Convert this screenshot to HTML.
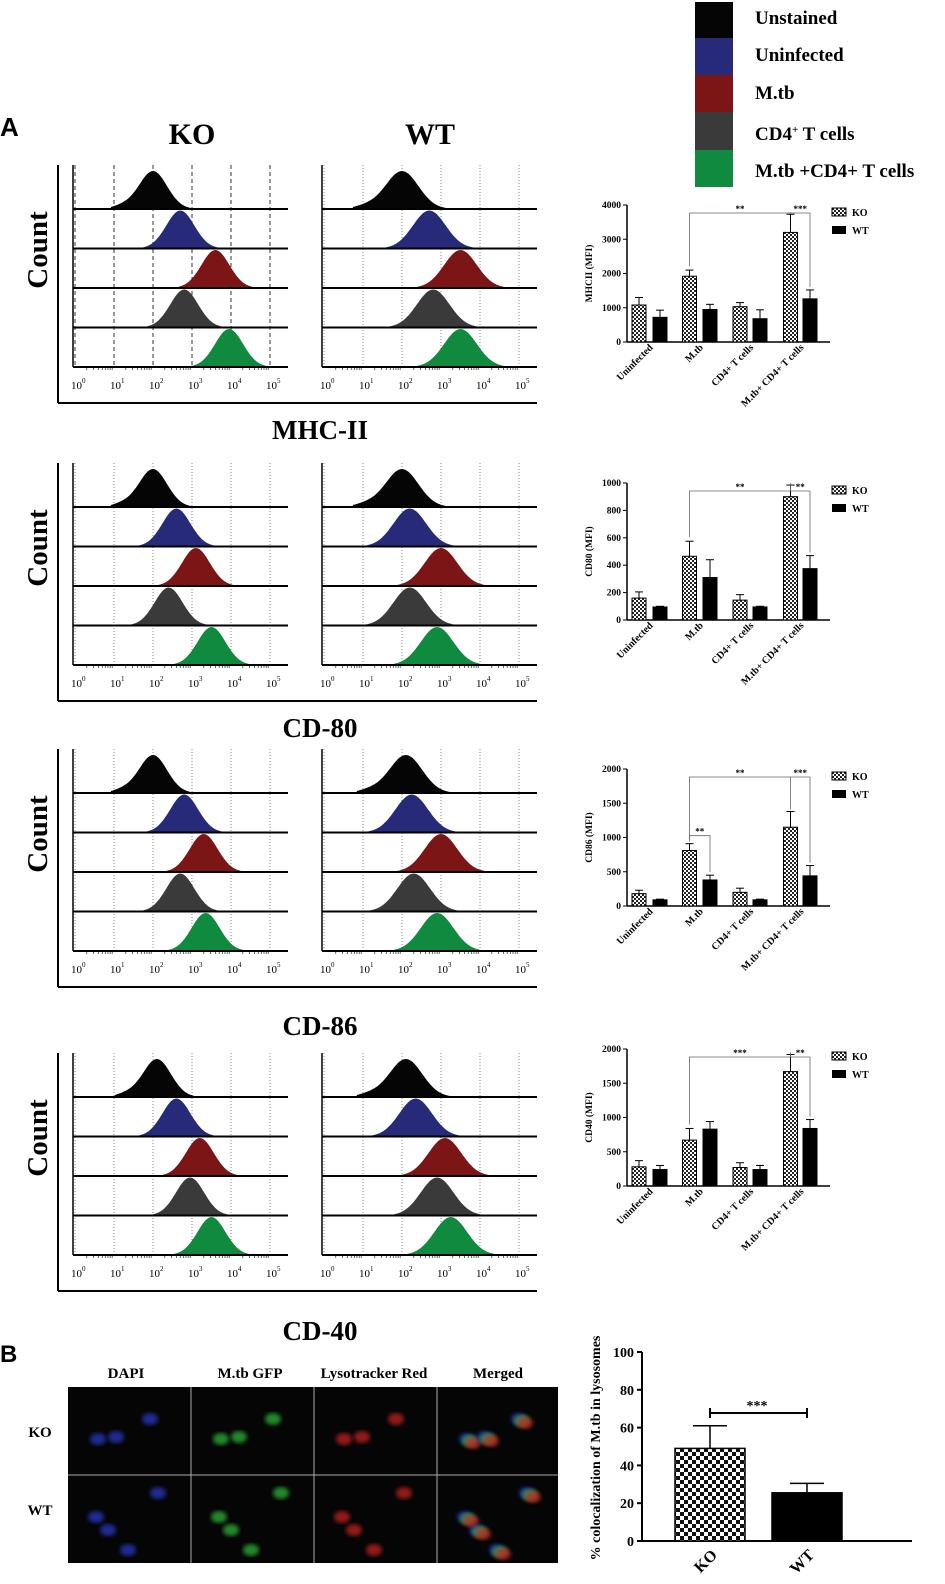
<!DOCTYPE html>
<html><head><meta charset="utf-8">
<style>
html,body{margin:0;padding:0;background:#fff;}
svg{display:block;font-family:"Liberation Serif",serif;}
</style></head>
<body>
<svg id="fig" width="945" height="1584" viewBox="0 0 945 1584" xmlns="http://www.w3.org/2000/svg">
<defs>
<pattern id="chk" width="4" height="4" patternUnits="userSpaceOnUse"><rect width="4" height="4" fill="#fff"/><rect width="2" height="2" fill="#222"/><rect x="2" y="2" width="2" height="2" fill="#222"/></pattern>
<pattern id="chkB" width="8" height="8" patternUnits="userSpaceOnUse"><rect width="8" height="8" fill="#fff"/><rect width="4" height="4" fill="#111"/><rect x="4" y="4" width="4" height="4" fill="#111"/></pattern>
<filter id="blur"><feGaussianBlur stdDeviation="2"/></filter>
</defs>
<g font-weight="bold" font-size="19">
<rect x="695" y="2" width="38" height="36" fill="#050505"/>
<rect x="695" y="38" width="38" height="37" fill="#262a78"/>
<rect x="695" y="75" width="38" height="37" fill="#7c1516"/>
<rect x="695" y="112" width="38" height="38" fill="#3a3a3a"/>
<rect x="695" y="150" width="38" height="37" fill="#0f8a3e"/>
<text x="755" y="24">Unstained</text>
<text x="755" y="61">Uninfected</text>
<text x="755" y="99">M.tb</text>
<text x="755" y="140">CD4<tspan font-size="11" dy="-7">+</tspan><tspan dy="7"> T cells</tspan></text>
<text x="755" y="177">M.tb +CD4+ T cells</text>
</g>
<text x="0" y="136" font-family="Liberation Sans,sans-serif" font-weight="bold" font-size="26">A</text>
<text x="192" y="144" text-anchor="middle" font-weight="bold" font-size="30">KO</text>
<text x="430" y="144" text-anchor="middle" font-weight="bold" font-size="30">WT</text>
<g id="hist"></g>
<g id="bars"></g>
<g id="panelB"></g>
</svg>
<script>
// ---- histogram data (log10 peak positions) ----
const markers = ["MHC-II","CD-80","CD-86","CD-40"];
const popNames = ["Unstained","Uninfected","M.tb","CD4 T cells","M.tb+CD4 T cells"];
const peaksKO = [[2.0,2.7,3.6,2.8,3.95],[2.0,2.6,3.1,2.4,3.5],[2.0,2.8,3.3,2.7,3.35],[2.1,2.6,3.2,2.95,3.5]];
const peaksWT = [[2.0,2.7,3.5,2.8,3.5],[2.0,2.2,3.0,2.2,2.9],[2.1,2.25,3.0,2.3,2.9],[2.1,2.35,3.1,2.9,3.25]];
const tickExp = ["0","1","2","3","4","5"];
// ---- bar chart data ----
const categories = ["Uninfected","M.tb","CD4+ T cells","M.tb+ CD4+ T cells"];
const barYTitles = ["MHCII (MFI)","CD80 (MFI)","CD86 (MFI)","CD40 (MFI)"];
const barMax = [4000,1000,2000,2000];
const barTicks = [[0,1000,2000,3000,4000],[0,200,400,600,800,1000],[0,500,1000,1500,2000],[0,500,1000,1500,2000]];
const koVals = [[1080,1920,1030,3200],[160,465,145,900],[180,810,200,1150],[280,670,270,1670]];
const koErr = [[220,180,120,530],[45,110,40,85],[50,100,60,230],[90,170,70,250]];
const wtVals = [[720,950,680,1260],[95,310,95,375],[90,380,90,440],[240,830,240,840]];
const wtErr = [[210,150,260,260],[5,130,5,95],[10,70,10,150],[60,110,60,130]];
const sigLong = ["**","**","**","***"];
const sigLast = ["***","**","***","**"];
// ---- panel B data ----
const bCats = ["KO","WT"];
const bVals = [49,25.5];
const bErr = [12,5];
const bTicks = [0,20,40,60,80,100];

const NS="http://www.w3.org/2000/svg";
function mk(tag,attrs,parent,txt){const e=document.createElementNS(NS,tag);for(const k in attrs)e.setAttribute(k,attrs[k]);if(txt!==undefined)e.textContent=txt;parent.appendChild(e);return e;}

const colors=["#050505","#262a78","#7c1516","#3a3a3a","#0f8a3e"];
const rowTop=[165,463,749,1053];
const titleY=[439,737,1035,1340];
const hist=document.getElementById('hist');
markers.forEach((m,r)=>{
  const top=rowTop[r];
  const g=mk('g',{},hist);
  
  
  const fb=top+238;
  mk('line',{x1:58,y1:top,x2:58,y2:fb,stroke:'#000','stroke-width':2},g);
  mk('line',{x1:58,y1:fb,x2:537,y2:fb,stroke:'#000','stroke-width':2},g);
  const ct=mk('text',{x:47,y:top+85,transform:`rotate(-90 47 ${top+85})`,'text-anchor':'middle','font-weight':'bold','font-size':29},g,'Count');
  
  
  const tt=mk('text',{x:320,y:titleY[r],'text-anchor':'middle','font-weight':'bold','font-size':27},g,m);
  
  
  [[73,288,peaksKO[r],'ko'],[322,537,peaksWT[r],'wt']].forEach(([L,R,pk,nm])=>{
    const pg=mk('g',{},g);
    
    
    const x0=L+2, dec=39;
    const xs=v=>x0+v*dec;
    const axisY=top+202;
    mk('line',{x1:L,y1:top,x2:L,y2:axisY,stroke:'#000','stroke-width':1.5},pg);
    for(let d=0;d<=5;d++){
      mk('line',{x1:xs(d),y1:top,x2:xs(d),y2:axisY,stroke:r===0&&nm==='ko'?'#333':'#888','stroke-width':1,'stroke-dasharray':r===0&&nm==='ko'?'4,3':'1,2'},pg);
      const t=mk('text',{x:xs(d)-4,y:axisY+22,'font-size':11},pg);
      t.textContent='10';
      mk('tspan',{dy:-6,'font-size':7},t,tickExp[d]);
      for(let k=2;k<10&&d<5;k++){const xx=xs(d+Math.log10(k));mk('line',{x1:xx,y1:axisY,x2:xx,y2:axisY+3,stroke:'#345','stroke-width':0.8},pg);}
    }
    const sig=nm==='ko'?0.36:0.42;
    pk.forEach((p,i)=>{
      const base=top+44+i*39.5;
      let d=`M${xs(p-3*sig)},${base}`;
      for(let s=-3;s<=3.001;s+=0.1){const v=p+s*sig;const tail=(i===0&&s<0)?0.08*Math.exp(-(s+2.2)*(s+2.2)):0;d+=` L${xs(v).toFixed(1)},${(base-38*(Math.exp(-s*s/2)+tail)).toFixed(1)}`;}
      d+=` L${xs(p+3*sig)},${base}Z`;
      const h=mk('path',{d:d,fill:colors[i]},pg);
      
      
      mk('line',{x1:L,y1:base,x2:R,y2:base,stroke:'#000','stroke-width':2},pg);
    });
  });
});

// ---- bar charts ----
const bars=document.getElementById('bars');
const barTop=[205,483,769,1049], barH=137;
markers.forEach((m,r)=>{
  const g=mk('g',{'font-weight':'bold'},bars);
  
  
  const t0=barTop[r], b0=t0+barH, ax=627;
  const y=v=>b0-v/barMax[r]*barH;
  const koX=i=>639+i*50.5, wtX=i=>660+i*50;
  mk('line',{x1:ax,y1:t0,x2:ax,y2:b0,stroke:'#000','stroke-width':1.5},g);
  mk('line',{x1:ax,y1:b0,x2:830,y2:b0,stroke:'#000','stroke-width':1.5},g);
  barTicks[r].forEach(v=>{mk('line',{x1:ax-4,y1:y(v),x2:ax,y2:y(v),stroke:'#000'},g);mk('text',{x:ax-6,y:y(v)+3,'text-anchor':'end','font-size':9.5},g,String(v));});
  mk('text',{x:592,y:(t0+b0)/2,transform:`rotate(-90 592 ${(t0+b0)/2})`,'text-anchor':'middle','font-size':9.5},g,barYTitles[r]);
  const bw=14;
  function bar(cx,v,e,fill,name){
    const rr=mk('rect',{x:cx-bw/2,y:y(v),width:bw,height:b0-y(v),fill:fill,stroke:'#000','stroke-width':1},g);
    
    
    mk('line',{x1:cx,y1:y(v),x2:cx,y2:y(v+e),stroke:'#000'},g);
    mk('line',{x1:cx-4,y1:y(v+e),x2:cx+4,y2:y(v+e),stroke:'#000'},g);
  }
  categories.forEach((c,i)=>{
    bar(koX(i),koVals[r][i],koErr[r][i],'url(#chk)','bar-ko-'+i);
    bar(wtX(i),wtVals[r][i],wtErr[r][i],'#000','bar-wt-'+i);
    const cx=(koX(i)+wtX(i))/2+4, cy=b0+6;
    mk('text',{x:cx,y:cy,transform:`rotate(-45 ${cx} ${cy})`,'text-anchor':'end','font-size':10},g,c);
  });
  const by=t0+8;
  mk('polyline',{points:`${koX(1)},${y(koVals[r][1]+koErr[r][1])-4} ${koX(1)},${by} ${koX(3)},${by} ${koX(3)},${y(koVals[r][3]+koErr[r][3])-2}`,fill:'none',stroke:'#666','stroke-width':0.8},g);
  mk('text',{x:(koX(1)+koX(3))/2,y:by-1,'text-anchor':'middle','font-size':9},g,sigLong[r]);
  mk('polyline',{points:`${koX(3)},${by} ${wtX(3)},${by} ${wtX(3)},${y(wtVals[r][3]+wtErr[r][3])-3}`,fill:'none',stroke:'#666','stroke-width':0.8},g);
  mk('text',{x:(koX(3)+wtX(3))/2,y:by-1,'text-anchor':'middle','font-size':9},g,sigLast[r]);
  if(r===2){const yy=y(koVals[r][1]+koErr[r][1])-8;
    mk('polyline',{points:`${koX(1)},${yy+6} ${koX(1)},${yy} ${wtX(1)},${yy} ${wtX(1)},${y(wtVals[r][1]+wtErr[r][1])-3}`,fill:'none',stroke:'#666','stroke-width':0.8},g);
    mk('text',{x:(koX(1)+wtX(1))/2,y:yy-1,'text-anchor':'middle','font-size':9},g,'**');}
  const lg=mk('g',{'font-size':10},g);
  
  
  mk('rect',{x:832,y:t0+3,width:14,height:8,fill:'url(#chk)',stroke:'#000'},lg);
  mk('text',{x:852,y:t0+11},lg,'KO');
  mk('rect',{x:832,y:t0+21,width:14,height:8,fill:'#000'},lg);
  mk('text',{x:852,y:t0+29},lg,'WT');
});

// ---- panel B ----
const pb=document.getElementById('panelB');
mk('text',{x:0,y:1362,'font-family':'Liberation Sans,sans-serif','font-weight':'bold','font-size':24},pb,'B');
const heads=["DAPI","M.tb GFP","Lysotracker Red","Merged"];
const mg=mk('g',{},pb);


mk('rect',{x:68,y:1387,width:490,height:176,fill:'#050505'},mg);
heads.forEach((h,i)=>{mk('text',{x:126+i*124,y:1378,'text-anchor':'middle','font-weight':'bold','font-size':15},mg,h);});
mk('text',{x:40,y:1437,'text-anchor':'middle','font-weight':'bold','font-size':15},mg,'KO');
mk('text',{x:40,y:1515,'text-anchor':'middle','font-weight':'bold','font-size':15},mg,'WT');
const chCol=["#2a3ad0","#2fc03a","#d02020"];
for(let c=0;c<4;c++)for(let rw=0;rw<2;rw++){
  const X=68+c*123, Y=1387+rw*88;
  const pts = rw===0?[[30,52],[48,50],[82,32]]:[[40,55],[28,42],[90,18],[60,75]];
  pts.forEach(([px,py],k)=>{
    const cols = c<3?[chCol[c]]:chCol;
    cols.forEach((cl,j)=>mk('ellipse',{cx:X+px+j*3,cy:Y+py+j*2,rx:8,ry:6,fill:cl,opacity:0.7,filter:'url(#blur)'},mg));
  });
}
for(let i=1;i<4;i++)mk('line',{x1:68+i*123,y1:1387,x2:68+i*123,y2:1563,stroke:'#aaa','stroke-width':1},mg);
mk('line',{x1:68,y1:1475,x2:558,y2:1475,stroke:'#aaa','stroke-width':1},mg);

const bg=mk('g',{'font-weight':'bold'},pb);


const bT=1352,bB=1541,bx=642;
const yb=v=>bB-v/100*(bB-bT);
mk('line',{x1:bx,y1:bT,x2:bx,y2:bB,stroke:'#000','stroke-width':2},bg);
mk('line',{x1:bx,y1:bB,x2:912,y2:bB,stroke:'#000','stroke-width':2},bg);
bTicks.forEach(v=>{mk('line',{x1:bx-5,y1:yb(v),x2:bx,y2:yb(v),stroke:'#000','stroke-width':2},bg);mk('text',{x:bx-8,y:yb(v)+5,'text-anchor':'end','font-size':14},bg,String(v));});
mk('text',{x:600,y:1448,transform:'rotate(-90 600 1448)','text-anchor':'middle','font-size':14},bg,'% colocalization of M.tb in lysosomes');
const bcx=[710,807];
bCats.forEach((c,i)=>{
  const cx=bcx[i];
  const rr=mk('rect',{x:cx-35,y:yb(bVals[i]),width:70,height:bB-yb(bVals[i]),fill:i===0?'url(#chkB)':'#000',stroke:'#000','stroke-width':1.5},bg);
  
  
  mk('line',{x1:cx,y1:yb(bVals[i]),x2:cx,y2:yb(bVals[i]+bErr[i]),stroke:'#000','stroke-width':1.5},bg);
  mk('line',{x1:cx-17,y1:yb(bVals[i]+bErr[i]),x2:cx+17,y2:yb(bVals[i]+bErr[i]),stroke:'#000','stroke-width':1.5},bg);
  mk('text',{x:cx+8,y:1556,transform:`rotate(-45 ${cx+8} 1556)`,'text-anchor':'end','font-size':16},bg,c);
});
mk('line',{x1:bcx[0],y1:1413,x2:bcx[1],y2:1413,stroke:'#000','stroke-width':2},bg);
mk('line',{x1:bcx[0],y1:1408,x2:bcx[0],y2:1418,stroke:'#000','stroke-width':2},bg);
mk('line',{x1:bcx[1],y1:1408,x2:bcx[1],y2:1418,stroke:'#000','stroke-width':2},bg);
mk('text',{x:757,y:1410,'text-anchor':'middle','font-size':14},bg,'***');
</script>
</body></html>
